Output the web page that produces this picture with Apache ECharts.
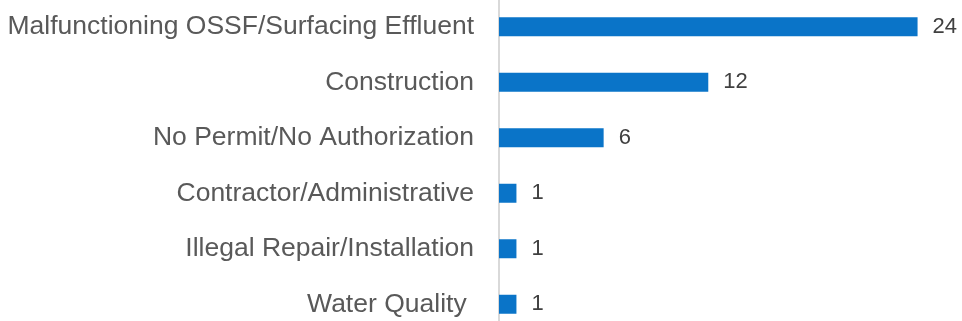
<!DOCTYPE html>
<html>
<head>
<meta charset="utf-8">
<style>
  html, body { margin: 0; padding: 0; background: #ffffff; }
  #chart { width: 962px; height: 321px; }
</style>
<script src="https://cdn.jsdelivr.net/npm/echarts@6/dist/echarts.min.js"></script>
</head>
<body>
<div id="chart"></div>
<script>
// Complaint categories, top to bottom
const categories = [
  'Malfunctioning OSSF/Surfacing Effluent',
  'Construction',
  'No Permit/No Authorization',
  'Contractor/Administrative',
  'Illegal Repair/Installation',
  'Water Quality '
];
// Number of complaints per category
const counts = [24, 12, 6, 1, 1, 1];

const chart = echarts.init(document.getElementById('chart'), null, { renderer: 'canvas' });
const font = "'Liberation Sans', Arial, sans-serif";

chart.setOption({
  animation: false,
  backgroundColor: '#ffffff',
  grid: {
    left: 499, top: -1, width: 436, height: 333,
    containLabel: false,
    outerBoundsMode: 'none'
  },
  xAxis: {
    type: 'value',
    min: 0,
    max: 25,
    show: false
  },
  yAxis: {
    type: 'category',
    data: categories,
    inverse: true,
    axisLine: { show: true, lineStyle: { color: '#d9d9d9', width: 2 } },
    axisTick: { show: false },
    axisLabel: {
      margin: 25,
      color: '#595959',
      fontFamily: font,
      fontSize: 26.5
    }
  },
  series: [{
    type: 'bar',
    data: counts,
    barWidth: 19,
    itemStyle: { color: '#0a74c8' },
    label: {
      show: true,
      position: 'right',
      distance: 15,
      color: '#404040',
      fontFamily: font,
      fontSize: 22
    }
  }]
});
</script>
</body>
</html>
